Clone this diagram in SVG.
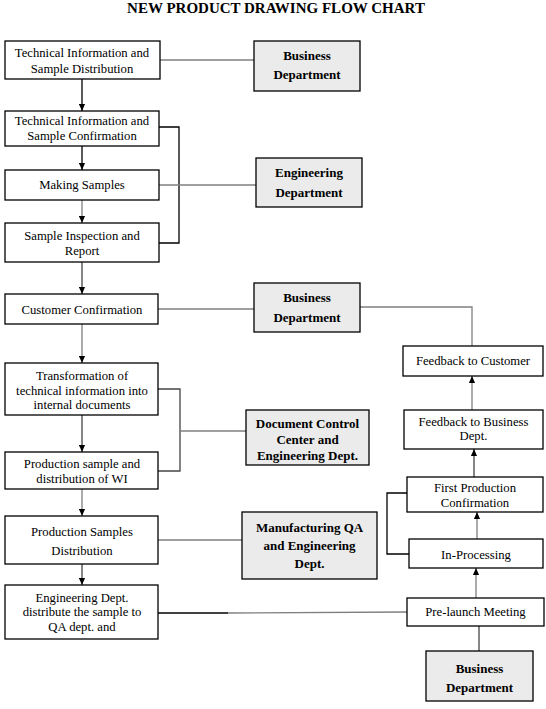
<svg xmlns="http://www.w3.org/2000/svg" width="546" height="709" viewBox="0 0 546 709">
<defs>
<marker id="ah" viewBox="0 0 8 7" refX="8" refY="3.5" markerWidth="7" markerHeight="7" markerUnits="userSpaceOnUse" orient="auto">
<path d="M0,0 L8,3.5 L0,7 z" fill="#000"/>
</marker>
<style>
.box{fill:#fff;stroke:#000;stroke-width:1.3}
.dept{fill:#ebebeb;stroke:#000;stroke-width:1.3}
.t{font-family:"Liberation Serif","Times New Roman",serif;font-size:12.7px;fill:#000;text-anchor:middle}
.d{font-family:"Liberation Serif","Times New Roman",serif;font-size:13px;font-weight:bold;fill:#000;text-anchor:middle}
.title{font-family:"Liberation Serif","Times New Roman",serif;font-size:15px;font-weight:bold;fill:#000;text-anchor:middle}
.g{fill:none;stroke:#7f7f7f;stroke-width:1.3}
.k{fill:none;stroke:#000;stroke-width:1.3}
.dk{fill:none;stroke:#444;stroke-width:1.3}
.a{marker-end:url(#ah)}
</style>
</defs>
<rect width="546" height="709" fill="#fff"/>
<text class="title" x="276" y="13">NEW PRODUCT DRAWING FLOW CHART</text>

<g id="connectors">
<path class="g" d="M160,60 H254"/>
<path class="k a" d="M82,79 V111"/>
<path class="k a" d="M82,146 V170"/>
<path class="k" d="M159,127 H179 V243 H159"/>
<path class="g" d="M159,185 H256"/>
<path class="g a" d="M82,200 V223"/>
<path class="dk a" d="M82,262 V294"/>
<path class="g" d="M158,309 H254"/>
<path class="g" d="M360,307 H472 V346"/>
<path class="g a" d="M82,324 V363"/>
<path class="dk" d="M158,389 H180 V471 H158"/>
<path class="g" d="M180,431 H246"/>
<path class="dk a" d="M82,415 V452"/>
<path class="g a" d="M82,489 V516"/>
<path class="g" d="M158,540 H242"/>
<path class="dk a" d="M82,564 V585"/>
<path class="k" d="M158,613 H228"/>
<path class="g" d="M228,613 L407,612"/>
<path class="dk" d="M479,626 V651"/>
<path class="g a" d="M476,598 V568"/>
<path class="g a" d="M477,539 V512"/>
<path class="k" d="M407,493 H387 V554 H409"/>
<path class="dk a" d="M474,477 V449"/>
<path class="g a" d="M472,410 V376"/>
</g>

<g id="n1"><rect class="box" x="5" y="41" width="155" height="38"/><text class="t" x="82" y="57">Technical Information and</text><text class="t" x="82" y="73">Sample Distribution</text></g>
<g id="n2"><rect class="box" x="5" y="111" width="154" height="35"/><text class="t" x="82" y="125">Technical Information and</text><text class="t" x="82" y="140">Sample Confirmation</text></g>
<g id="n3"><rect class="box" x="5" y="170" width="154" height="30"/><text class="t" x="82" y="189">Making Samples</text></g>
<g id="n4"><rect class="box" x="5" y="223" width="154" height="39"/><text class="t" x="82" y="240">Sample Inspection and</text><text class="t" x="82" y="255">Report</text></g>
<g id="n5"><rect class="box" x="5" y="294" width="153" height="30"/><text class="t" x="82" y="314">Customer Confirmation</text></g>
<g id="n6"><rect class="box" x="5" y="363" width="153" height="52"/><text class="t" x="82" y="380">Transformation of</text><text class="t" x="82" y="395">technical information into</text><text class="t" x="82" y="409">internal documents</text></g>
<g id="n7"><rect class="box" x="5" y="452" width="153" height="37"/><text class="t" x="82" y="468">Production sample and</text><text class="t" x="82" y="483">distribution of WI</text></g>
<g id="n8"><rect class="box" x="5" y="516" width="153" height="48"/><text class="t" x="82" y="536">Production Samples</text><text class="t" x="82" y="555">Distribution</text></g>
<g id="n9"><rect class="box" x="5" y="585" width="153" height="54"/><text class="t" x="82" y="602">Engineering Dept.</text><text class="t" x="82" y="616">distribute the sample to</text><text class="t" x="82" y="631">QA dept. and</text></g>

<g id="d1"><rect class="dept" x="254" y="41" width="106" height="50"/><text class="d" x="307" y="60">Business</text><text class="d" x="307" y="79">Department</text></g>
<g id="d2"><rect class="dept" x="256" y="158" width="106" height="49"/><text class="d" x="309" y="177">Engineering</text><text class="d" x="309" y="197">Department</text></g>
<g id="d3"><rect class="dept" x="254" y="283" width="106" height="49"/><text class="d" x="307" y="302">Business</text><text class="d" x="307" y="322">Department</text></g>
<g id="d4"><rect class="dept" x="246" y="410" width="123" height="55"/><text class="d" x="307.5" y="416" dy="12">Document Control</text><text class="d" x="307.5" y="444">Center and</text><text class="d" x="307.5" y="460">Engineering Dept.</text></g>
<g id="d5"><rect class="dept" x="242" y="512" width="135" height="67"/><text class="d" x="309.5" y="532">Manufacturing QA</text><text class="d" x="309.5" y="550">and Engineering</text><text class="d" x="309.5" y="568">Dept.</text></g>
<g id="d6"><rect class="dept" x="426" y="651" width="107" height="50"/><text class="d" x="479.5" y="673">Business</text><text class="d" x="479.5" y="692">Department</text></g>

<g id="r1"><rect class="box" x="403" y="346" width="140" height="30"/><text class="t" x="473" y="365">Feedback to Customer</text></g>
<g id="r2"><rect class="box" x="404" y="410" width="139" height="39"/><text class="t" x="473.5" y="426">Feedback to Business</text><text class="t" x="473.5" y="440">Dept.</text></g>
<g id="r3"><rect class="box" x="407" y="477" width="136" height="35"/><text class="t" x="475" y="492">First Production</text><text class="t" x="475" y="507">Confirmation</text></g>
<g id="r4"><rect class="box" x="409" y="539" width="134" height="29"/><text class="t" x="476" y="559">In-Processing</text></g>
<g id="r5"><rect class="box" x="407" y="598" width="137" height="28"/><text class="t" x="475.5" y="616">Pre-launch Meeting</text></g>
</svg>
